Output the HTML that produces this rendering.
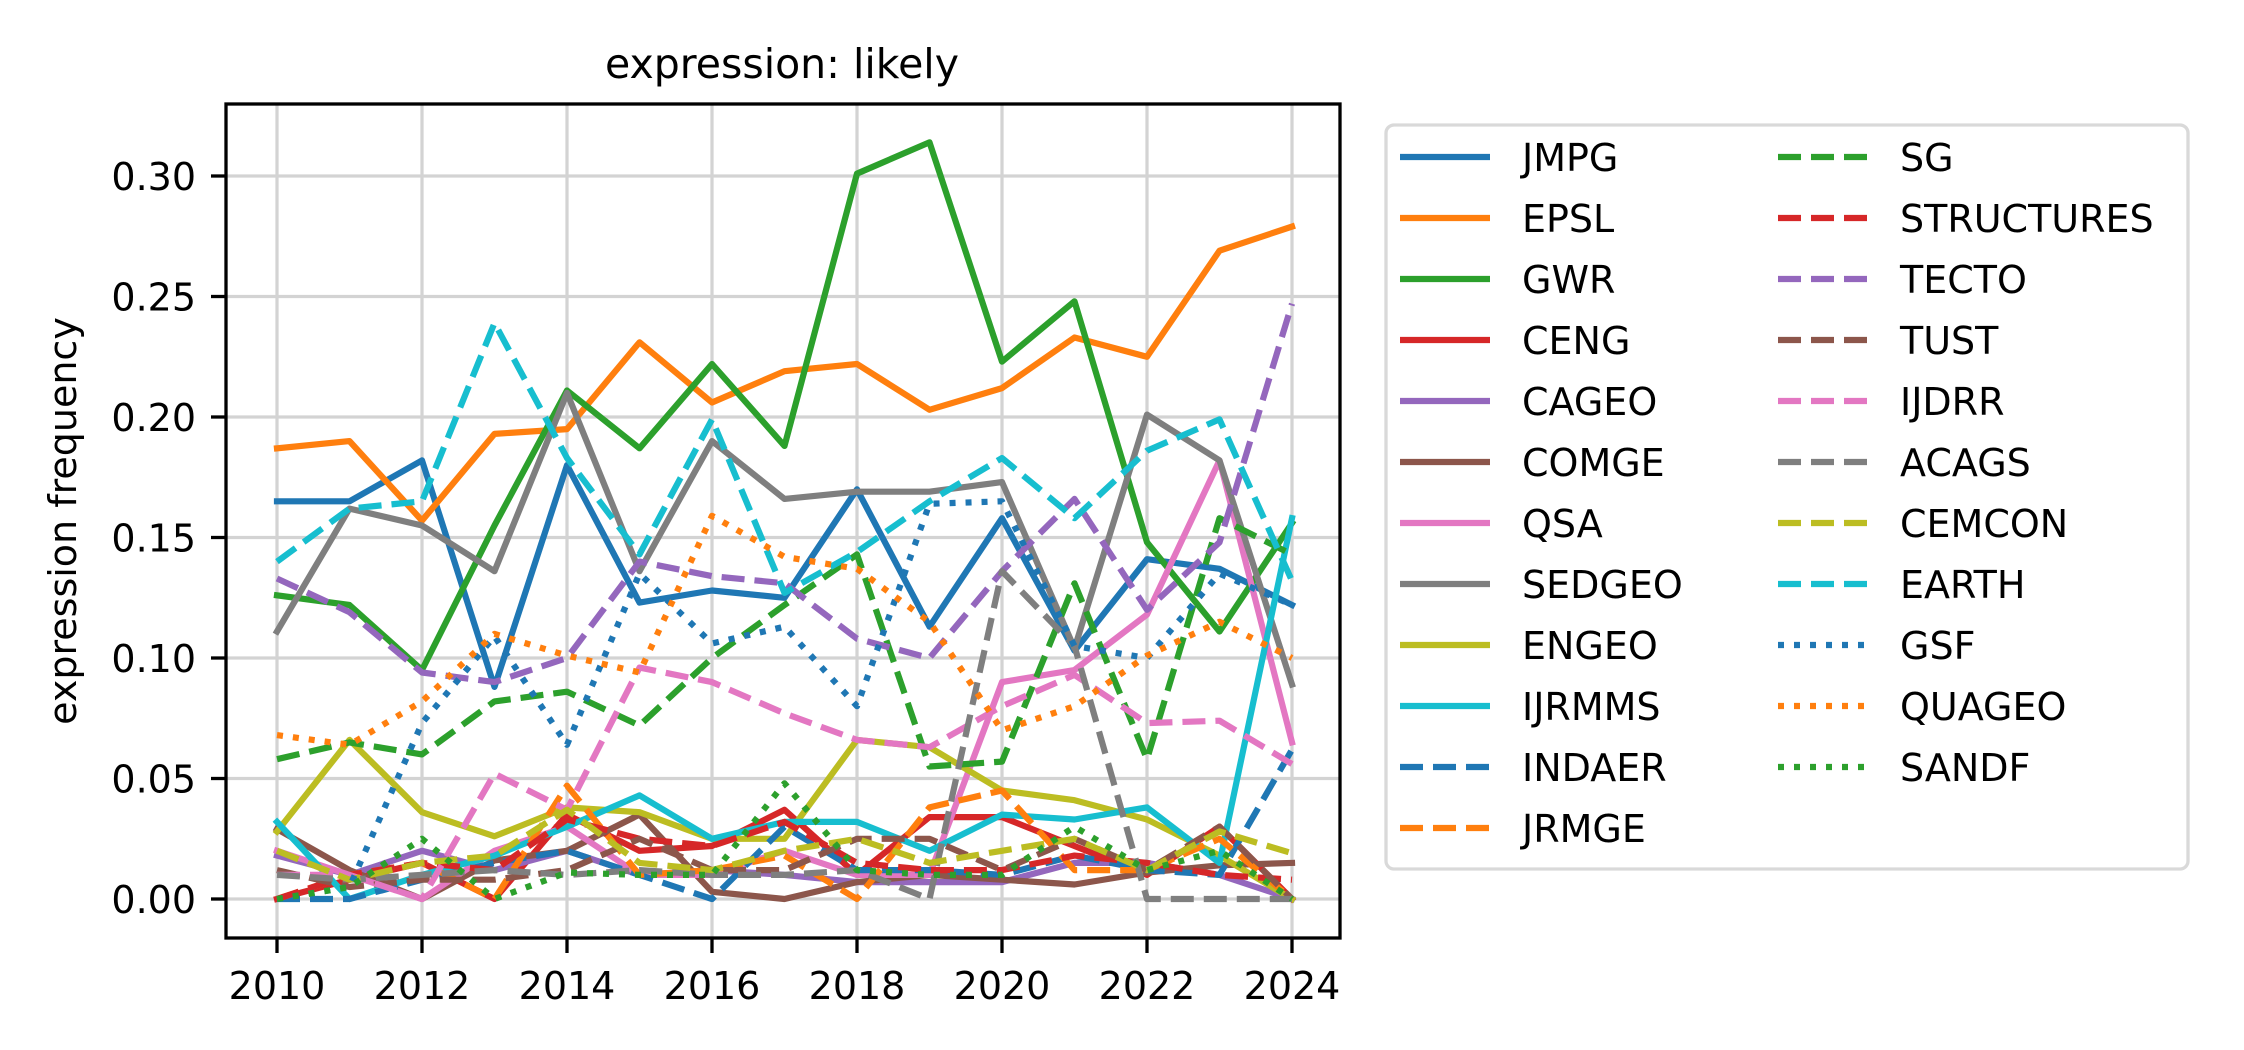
<!DOCTYPE html>
<html><head><meta charset="utf-8">
<style>
html,body{margin:0;padding:0;background:#fff;}
svg{display:block;font-family:"DejaVu Sans","Liberation Sans",sans-serif;}
</style></head>
<body>
<svg id="chart" width="2244" height="1050" viewBox="0 0 2244 1050" xmlns="http://www.w3.org/2000/svg">
<rect x="0" y="0" width="2244" height="1050" fill="#fff"/>
<g id="grid"></g>
<g id="series"></g>
<rect x="226" y="104" width="1114" height="834" fill="none" stroke="#000" stroke-width="3.3"/>
<g id="ticks"></g>
<text x="782" y="78" font-size="41" text-anchor="middle">expression: likely</text>
<text x="0" y="0" font-size="38" text-anchor="middle" transform="translate(76,521) rotate(-90)">expression frequency</text>
<g id="legend"></g>
</svg>
<script>
const years = [2010,2011,2012,2013,2014,2015,2016,2017,2018,2019,2020,2021,2022,2023,2024];
const yTicks = [0.00,0.05,0.10,0.15,0.20,0.25,0.30];
const yTickLabels = ["0.00","0.05","0.10","0.15","0.20","0.25","0.30"];
const xTicks = [2010,2012,2014,2016,2018,2020,2022,2024];
const names = ["JMPG","EPSL","GWR","CENG","CAGEO","COMGE","QSA","SEDGEO","ENGEO","IJRMMS","INDAER","JRMGE","SG","STRUCTURES","TECTO","TUST","IJDRR","ACAGS","CEMCON","EARTH","GSF","QUAGEO","SANDF"];
const JMPG = [.165,.165,.182,.088,.180,.123,.128,.125,.170,.113,.158,.103,.141,.137,.122];
const EPSL = [.187,.190,.157,.193,.195,.231,.206,.219,.222,.203,.212,.233,.225,.269,.279];
const GWR = [.126,.122,.095,.155,.211,.187,.222,.188,.301,.314,.223,.248,.148,.111,.156];
const CENG = [0,.008,.015,0,.035,.020,.022,.037,.010,.034,.034,.022,.010,.030,0];
const CAGEO = [.018,.010,.020,.012,.020,.010,.012,.010,.007,.007,.007,.015,.015,.010,0];
const COMGE = [.029,.012,0,.016,.020,.035,.003,0,.007,.010,.008,.006,.011,.014,.015];
const QSA = [.020,.010,0,.020,.030,.010,.010,.020,.010,.010,.090,.095,.118,.182,.065];
const SEDGEO = [.111,.162,.155,.136,.210,.136,.190,.166,.169,.169,.173,.104,.201,.182,.089];
const ENGEO = [.028,.066,.036,.026,.038,.036,.025,.025,.066,.063,.045,.041,.033,.018,0];
const IJRMMS = [.032,0,.010,.018,.030,.043,.025,.032,.032,.020,.035,.033,.038,.015,.158];
const INDAER = [0,0,.008,.015,.020,.010,0,.030,.012,.012,.010,.018,.012,.010,.062];
const JRMGE = [0,.010,.015,0,.047,.010,.012,.018,0,.038,.045,.012,.012,.025,0];
const SG = [.058,.065,.060,.082,.086,.072,.100,.122,.143,.055,.057,.131,.058,.158,.143];
const STRUCTURES = [0,.010,.015,.012,.033,.025,.022,.032,.015,.012,.012,.018,.015,.010,.008];
const TECTO = [.133,.119,.094,.090,.100,.140,.134,.131,.108,.100,.136,.166,.120,.148,.247];
const TUST = [.012,.005,.008,.008,.012,.025,.012,.012,.025,.025,.012,.025,.012,.030,0];
const IJDRR = [.010,.010,0,.052,.037,.096,.090,.077,.066,.063,.080,.093,.073,.074,.056];
const ACAGS = [.010,.008,.010,.012,.010,.012,.010,.010,.012,0,.136,.105,0,0,0];
const CEMCON = [.020,.008,.015,.018,.037,.015,.012,.020,.025,.015,.020,.025,.012,.028,.019];
const EARTH = [.140,.162,.165,.239,.183,.143,.199,.127,.144,.165,.183,.158,.186,.199,.132];
const GSF = [0,.005,.073,.109,.064,.135,.106,.113,.080,.164,.165,.105,.100,.135,.122];
const QUAGEO = [.068,.064,.082,.110,.101,.094,.159,.142,.137,.115,.070,.080,.101,.115,.100];
const SANDF = [0,.005,.025,0,.011,.010,.010,.048,.012,.010,.010,.030,.012,.020,0];
const seriesValues = [JMPG,EPSL,GWR,CENG,CAGEO,COMGE,QSA,SEDGEO,ENGEO,IJRMMS,INDAER,JRMGE,SG,STRUCTURES,TECTO,TUST,IJDRR,ACAGS,CEMCON,EARTH,GSF,QUAGEO,SANDF];

const colors = ["#1f77b4","#ff7f0e","#2ca02c","#d62728","#9467bd","#8c564b","#e377c2","#7f7f7f","#bcbd22","#17becf"];
function styleOf(i){
  const c = colors[i % 10];
  let dash = "none";
  if (i >= 10 && i < 20) dash = "23 10";
  if (i >= 20) dash = "6 10";
  return {c, dash};
}
const NS = "http://www.w3.org/2000/svg";
function xs(yr){ return 277 + (yr - 2010) * 72.5; }
function ys(v){ return 899 - v * 2410; }
function mk(tag, attrs, parent){
  const e = document.createElementNS(NS, tag);
  for (const k in attrs) e.setAttribute(k, attrs[k]);
  parent.appendChild(e); return e;
}
const grid = document.getElementById("grid");
const ticks = document.getElementById("ticks");
xTicks.forEach((t) => {
  const x = xs(t);
  const g = mk("line", {x1:x, x2:x, y1:104, y2:938, stroke:"#d3d3d3", "stroke-width":3.2}, grid);
  
  
  const tk = mk("line", {x1:x, x2:x, y1:938, y2:953, stroke:"#000", "stroke-width":3.3}, ticks);
  
  
  const tl = mk("text", {x:x, y:999, "font-size":38, "text-anchor":"middle"}, ticks);
  
  
  tl.textContent = String(t);
});
yTicks.forEach((t, i) => {
  const y = ys(t);
  const g = mk("line", {x1:226, x2:1340, y1:y, y2:y, stroke:"#d3d3d3", "stroke-width":3.2}, grid);
  
  
  const tk = mk("line", {x1:211, x2:226, y1:y, y2:y, stroke:"#000", "stroke-width":3.3}, ticks);
  
  
  const tl = mk("text", {x:196, y:y + 14, "font-size":38, "text-anchor":"end"}, ticks);
  
  
  tl.textContent = yTickLabels[i];
});
const sg = document.getElementById("series");
seriesValues.forEach((vals, i) => {
  const s = styleOf(i);
  const pts = vals.map((v, j) => xs(years[j]).toFixed(1) + "," + ys(v).toFixed(1)).join(" ");
  const p = mk("polyline", {points:pts, fill:"none", stroke:s.c, "stroke-width":6.2, "stroke-linejoin":"round", "stroke-linecap":s.dash==="none"?"square":"butt"}, sg);
  if (s.dash !== "none") p.setAttribute("stroke-dasharray", s.dash);
  
  
});
const lg = document.getElementById("legend");
const box = mk("rect", {x:1386, y:125, width:802, height:744, rx:8, fill:"#fff", stroke:"#d9d9d9", "stroke-width":3.3}, lg);


names.forEach((n, i) => {
  const col = i < 12 ? 0 : 1;
  const row = i < 12 ? i : i - 12;
  const y = 157 + row * 61;
  const lx = col === 0 ? 1400 : 1778;
  const tx = col === 0 ? 1522 : 1900;
  const s = styleOf(i);
  const g = mk("g", {}, lg);
  
  
  const l = mk("line", {x1:lx, x2:lx + 90, y1:y, y2:y, stroke:s.c, "stroke-width":6.2}, g);
  if (s.dash !== "none") l.setAttribute("stroke-dasharray", s.dash);
  const t = mk("text", {x:tx, y:y + 14, "font-size":38}, g);
  t.textContent = n;
});
</script>
</body></html>
